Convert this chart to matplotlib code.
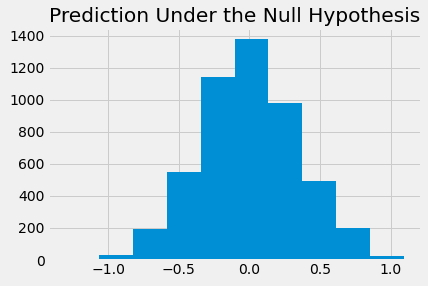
import matplotlib
matplotlib.use("Agg")
import matplotlib.pyplot as plt
import numpy as np

plt.style.use("fivethirtyeight")

bin_edges = [-1.305, -1.065, -0.826, -0.586, -0.346, -0.106, 0.134, 0.374, 0.613, 0.853, 1.093]
counts = [1, 30, 196, 550, 1143, 1378, 982, 493, 202, 22]
title = "Prediction Under the Null Hypothesis"

edges = np.array(bin_edges)
centers = (edges[:-1] + edges[1:]) / 2

fig = plt.figure(figsize=(428 / 72, 286 / 72), dpi=72)
ax = fig.add_subplot(111)
fig.subplots_adjust(left=48 / 428, right=421 / 428, top=1 - 28 / 286, bottom=1 - 260 / 286)
ax.hist(centers, bins=edges, weights=counts)
ax.set_title(title)
fig.savefig("out.png", dpi=72)
